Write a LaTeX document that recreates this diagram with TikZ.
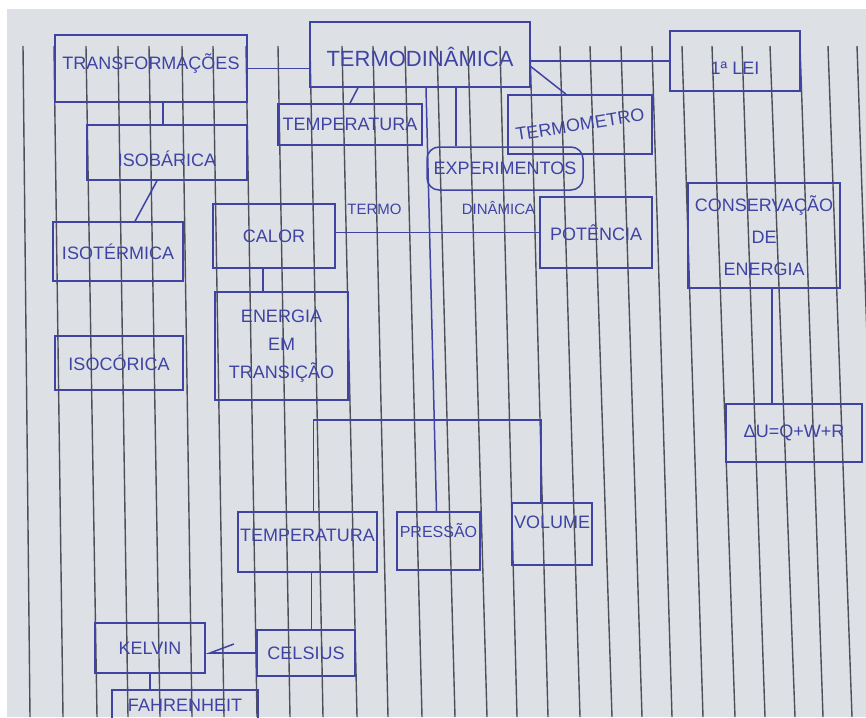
\documentclass[tikz,border=0pt]{standalone}
\usepackage{fontspec}
\setmainfont{Liberation Sans}
\usetikzlibrary{arrows.meta,calc}
\definecolor{ink}{HTML}{3F43A4}
\definecolor{papel}{HTML}{DDE1E6}
\definecolor{risco}{HTML}{4E5059}

\begin{document}
\begin{tikzpicture}[x=0.5pt,y=-0.5pt,>=Latex,
  caixa/.style={draw=ink,line width=0.75pt,text=ink,align=center,inner sep=1pt,
    font=\fontsize{9}{11}\selectfont},
  tam/.style 2 args={minimum width=#1*0.5pt,minimum height=#2*0.5pt},
  fio/.style={draw=ink,line width=0.75pt},
  rotulo/.style={text=ink,font=\fontsize{7.5}{9}\selectfont}]
  \clip (0,0) rectangle (866,717);
  % folha pautada
  \fill[white] (0,0) rectangle (866,717);
  \fill[papel] (7,9) rectangle (866,717);
  \foreach \t/\b in {23/30,54/63,86/97,118/128,149/160,182/192,213/224,246/257,
      278/290,310/323,342/357,373/388,405/422,437/455,468/487,500/517,530/548,
      560/580,590/612,621/642,652/672,682/703,712/735,742/765,770/795,800/823,
      828/852,857/880}
    \draw[risco,line width=0.7pt] (\t,46) -- (\b,717);

  \node[caixa,tam={192}{67},text depth=6.5pt] (trans) at (151,68.5) {TRANSFORMAÇÕES};
  \node[caixa,tam={220}{65},text height=12.5pt,font=\fontsize{11}{13}\selectfont] (termo) at (420,54.5) {TERMODINÂMICA};
  \node[caixa,tam={130}{60},text height=14pt] (lei) at (735,61) {1ª LEI};
  \node[caixa,tam={144}{41}] (tempa) at (350,124.5) {TEMPERATURA};
  \node[caixa,tam={144}{59}] (termometro) at (580,124.5) {\rotatebox{9}{TERMOMETRO}};
  \node[caixa,tam={156}{43},rounded corners=6pt] (exper) at (505,168.5) {EXPERIMENTOS};
  \node[caixa,tam={160}{55},text height=14.5pt] (isobar) at (167,152.5) {ISOBÁRICA};
  \node[caixa,tam={130}{59}] (isoterm) at (118,251.5) {ISOTÉRMICA};
  \node[caixa,tam={122}{64}] (calor) at (274,236) {CALOR};
  \node[caixa,tam={112}{71}] (potencia) at (596,232.5) {POTÊNCIA};
  \node[caixa,tam={152}{105},font=\fontsize{9}{16}\selectfont] (conserv) at (764,235.5) {CONSERVAÇÃO\\DE\\ENERGIA};
  \node[caixa,tam={133}{108},font=\fontsize{9}{14}\selectfont] (energia) at (281.5,346) {ENERGIA\\EM\\TRANSIÇÃO};
  \node[caixa,tam={128}{54}] (isocor) at (119,363) {ISOCÓRICA};
  \node[caixa,tam={136}{58}] (deltau) at (794,433) {ΔU=Q+W+R};
  \node[caixa,tam={135}{60},text depth=7pt] (tempb) at (307.5,542) {TEMPERATURA};
  \node[caixa,tam={83}{58},text depth=11pt,font=\fontsize{8}{10}\selectfont] (pressao) at (438.5,541) {PRESSÃO};
  \node[caixa,tam={80}{62},text depth=12pt] (volume) at (552,534) {VOLUME};
  \node[caixa,tam={110}{50}] (kelvin) at (150,648) {KELVIN};
  \node[caixa,tam={98}{46}] (celsius) at (306,653) {CELSIUS};
  \node[caixa,tam={146}{56},text depth=13pt] (fahr) at (185,718) {FAHRENHEIT};

  \coordinate (barra) at (430,420);

  \draw[fio] (trans.east) -- (trans.east -| termo.west);
  \draw[fio] (lei.west -| termo.east) -- (lei.west);
  \draw[fio] ([xshift=4pt]tempa.north |- termo.south) -- (tempa.north);
  \draw[fio] ([yshift=-6pt]termo.east) -- ([xshift=-7pt]termometro.north);
  \draw[fio] ([xshift=18pt]termo.south) -- ([xshift=18pt]termo.south |- exper.north);
  \draw[fio] ([xshift=3pt]termo.south) -- ([xshift=-1pt]pressao.north);
  \draw[fio] ([xshift=3pt]tempb.north) |- (barra) -| ([xshift=-5.5pt]volume.north);
  \draw[fio] (potencia.west -| calor.east) -- node[rotulo,pos=.19,above=5pt] {TERMO}
    node[rotulo,pos=.8,above=5pt] {DINÂMICA} (potencia.west);
  \draw[fio] ([xshift=-5.5pt]calor.south) -- ([xshift=-5.5pt]calor.south |- energia.north);
  \draw[fio] ([xshift=6pt]trans.south) -- ([xshift=6pt]trans.south |- isobar.north);
  \draw[fio] ([xshift=-5pt]isobar.south) -- ([xshift=8.5pt]isoterm.north);
  \draw[fio] ([xshift=2pt]tempb.south) -- ([xshift=2pt]tempb.south |- celsius.north);
  \draw[fio,-{Straight Barb[harpoon,swap,length=12pt,width=9pt]}] (celsius.west) -- (celsius.west -| kelvin.east);
  \draw[fio] (kelvin.south) -- (kelvin.south |- fahr.north);
  \draw[fio] ([xshift=4pt]conserv.south) -- ([xshift=4pt]conserv.south |- deltau.north);
\end{tikzpicture}
\end{document}
